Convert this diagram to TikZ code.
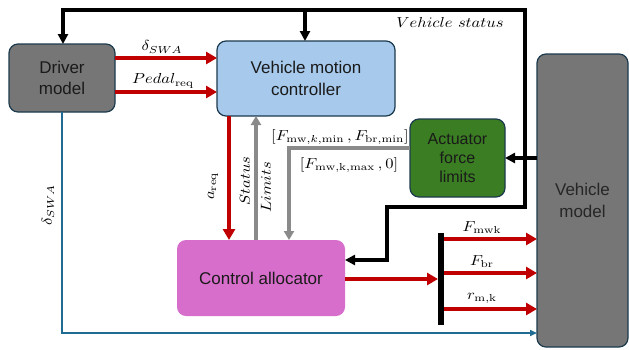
\documentclass[tikz,border=0pt]{standalone}
\usepackage{graphicx}
\usepackage{fontspec}
\newfontfamily\boxfont{Liberation Sans}
\usetikzlibrary{arrows.meta}
\definecolor{grayc}{HTML}{767676}
\definecolor{bordc}{HTML}{1C3A4D}
\definecolor{bluec}{HTML}{A6C9EC}
\definecolor{greenc}{HTML}{3A7D22}
\definecolor{pinkc}{HTML}{D86ECC}
\definecolor{redc}{HTML}{C00000}
\definecolor{garrc}{HTML}{8A8A8A}
\definecolor{bluel}{HTML}{1F6B91}
\definecolor{txtc}{HTML}{1A1A1A}
\newcommand\mlbl[1]{\scalebox{1.65}[1.45]{$#1$}}
\begin{document}
\begin{tikzpicture}[x=1pt,y=-1pt,
  box/.style={draw=bordc, line width=1.2pt, rounded corners=9pt, inner sep=0pt, outer sep=0pt,
    font=\boxfont\fontsize{17}{21.5}\selectfont, text=txtc, align=center},
  redarr/.style={draw=redc, line width=4pt, -{Triangle[length=11pt,width=12pt]}},
  grayarr/.style={draw=garrc, line width=3.5pt, -{Triangle[length=9pt,width=10pt]}},
  blkarr/.style={draw=black, line width=3.5pt, -{Triangle[length=10pt,width=10pt]}},
  bluearr/.style={draw=bluel, line width=1.6pt, -{Triangle[length=7pt,width=6pt]}},
  lab/.style={font=\normalsize, inner sep=0pt}
]
\useasboundingbox (0,0) rectangle (629,349);
% boxes
\node[box, fill=grayc, minimum width=106pt, minimum height=68pt] (drv) at (62,78) {Driver\\model};
\node[box, fill=bluec, minimum width=178pt, minimum height=75pt] (vmc) at (306,78.5) {Vehicle motion\\controller};
\node[box, fill=greenc, minimum width=95pt, minimum height=78pt, font=\boxfont\fontsize{16}{19}\selectfont] (act) at (457.5,158) {Actuator\\force\\limits};
\node[box, draw=none, fill=pinkc, minimum width=168pt, minimum height=76pt] (ca) at (261,278) {Control allocator};
\node[box, fill=grayc, minimum width=91pt, minimum height=293pt, font=\boxfont\fontsize{17}{22}\selectfont, text=black!85] (vm) at (582.5,200.5) {Vehicle\\model};
\node[fill=black, draw=none, minimum width=6pt, minimum height=92pt, inner sep=0pt, outer sep=0pt] (bar) at (441,279) {};
% coordinates of the black loop
\coordinate (tl) at (63,10);
\coordinate (tm) at (305,10);
\coordinate (tr) at (525,10);
\coordinate (jr) at (525,207);
\coordinate (jl) at (387,207);
\coordinate (bl) at (62,333);
\coordinate (gk) at (289,148);
% red connectors
\draw[redarr] (drv.east |- 0,58) -- (vmc.west |- 0,58);
\draw[redarr] (drv.east |- 0,92) -- (vmc.west |- 0,92);
\draw[redarr] (vmc.south -| 229,0) -- (ca.north -| 229,0);
\draw[redarr] (ca.east |- 0,279) -- (bar.west |- 0,279);
\draw[redarr] (bar.east |- 0,239) -- (vm.west |- 0,239);
\draw[redarr] (bar.east |- 0,273) -- (vm.west |- 0,273);
\draw[redarr] (bar.east |- 0,309) -- (vm.west |- 0,309);
% gray connectors
\draw[grayarr] (ca.north -| 256,0) -- (vmc.south -| 256,0);
\draw[grayarr] (act.west |- 0,148) -- (gk) -- (ca.north -| 289,0);
% black connectors
\draw[blkarr, {Triangle[length=10pt,width=10pt]}-{Triangle[length=10pt,width=10pt]}]
  (drv.north -| 63,0) -- (tl) -- (tr) -- (jr) -- (jl) -- (387,260) -- (ca.east |- 0,260);
\draw[blkarr] (tm) -- (vmc.north -| 305,0);
\draw[blkarr] (vm.west |- 0,158) -- (act.east |- 0,158);
% blue connector
\draw[bluearr] (drv.south -| 62,0) -- (bl) -- (vm.west |- 0,333);
% labels
\node[lab] (l1) at (162,47) {\mlbl{\delta_{SWA}}};
\node[lab] (l2) at (163,81) {\mlbl{Pedal_{\mathrm{req}}}};
\node[lab, rotate=90] (l3) at (213,186) {\mlbl{a_{\mathrm{req}}}};
\node[lab, rotate=90] (l4) at (245,181) {\mlbl{Status}};
\node[lab, rotate=90] (l5) at (266,187) {\mlbl{Limits}};
\node[lab] (l6) at (340,137) {\mlbl{[F_{\mathrm{mw},k,\mathrm{min}}\,, F_{\mathrm{br,min}}]}};
\node[lab] (l7) at (349,165) {\mlbl{[F_{\mathrm{mw,k,max}}\,, 0]}};
\node[lab] (l8) at (450,22) {\mlbl{Vehicle\ status}};
\node[lab] (l9) at (482,228) {\mlbl{F_{\mathrm{mwk}}}};
\node[lab] (l10) at (482,262) {\mlbl{F_{\mathrm{br}}}};
\node[lab] (l11) at (482,298) {\mlbl{r_{\mathrm{m,k}}}};
\node[lab, rotate=90] (l12) at (48,205) {\mlbl{\delta_{SWA}}};
\end{tikzpicture}
\end{document}
